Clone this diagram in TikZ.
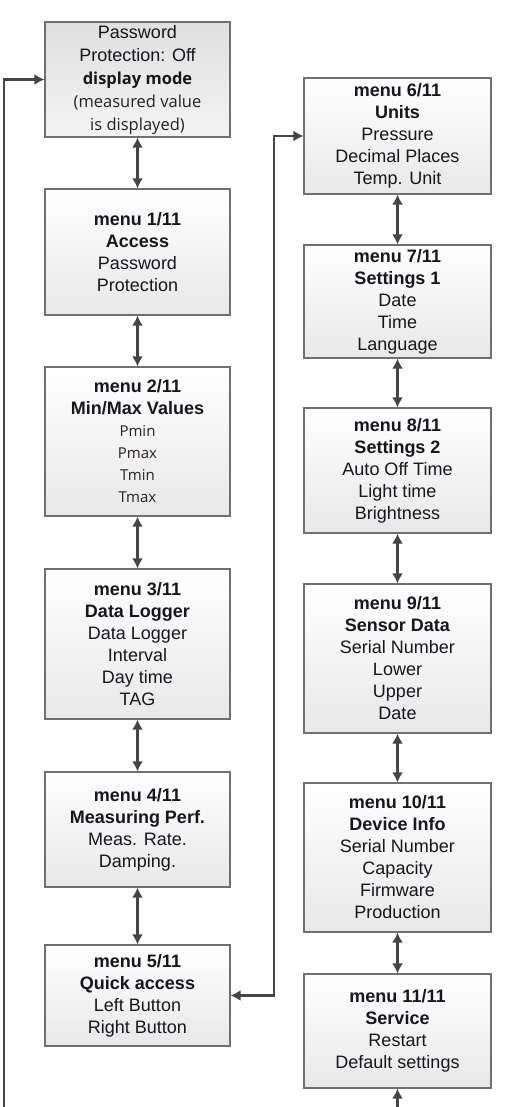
\documentclass[tikz,border=0pt]{standalone}
\usepackage{fontspec}
\setmainfont{Liberation Sans}
\newfontfamily\opens{Open Sans}
\usetikzlibrary{arrows.meta,calc}
\definecolor{boxline}{HTML}{707070}
\definecolor{boxbot}{HTML}{E8E8E8}
\definecolor{conncol}{HTML}{454545}
\definecolor{txt}{HTML}{16161E}
\definecolor{minmax}{HTML}{2A221E}
\definecolor{disptxt}{HTML}{222222}
\tikzset{
  menubox/.style={draw=boxline, line width=1.2pt, top color=white, bottom color=boxbot,
    align=center, inner sep=0pt, text=txt, font=\fontsize{18}{22}\selectfont},
  leftbox/.style={menubox, minimum width=185pt},
  rightbox/.style={menubox, minimum width=187pt},
  conn/.style={draw=conncol, line width=2.4pt, arrows={-Latex[length=10pt,width=11pt]}},
  bconn/.style={draw=conncol, line width=2.4pt, arrows={Latex[length=10pt,width=11pt]-Latex[length=10pt,width=11pt]}}
}
\newcommand{\mmitem}[1]{{\opens\fontsize{15}{22}\selectfont\color{minmax}#1}}
\newcommand{\dispitem}[1]{{\opens\fontsize{16.5}{23}\selectfont\color{disptxt}#1}}
\begin{document}
\begin{tikzpicture}[x=1pt,y=-1pt]
\useasboundingbox (0,0) rectangle (509,1107);
% left column
\node[leftbox, minimum height=115pt, top color=gray!25, bottom color=gray!9,
      font=\fontsize{18}{23}\selectfont] (d) at (137.5,79.5)
  {Password\\Protection: Off\\{\opens\bfseries\fontsize{16.5}{23}\selectfont display mode}\\
   \dispitem{(measured value}\\\dispitem{is displayed)}};
\node[leftbox, minimum height=126pt] (m1) at (137.5,252)
  {\textbf{menu 1/11}\\\textbf{Access}\\Password\\Protection};
\node[leftbox, minimum height=149pt] (m2) at (137.5,441.5)
  {\textbf{menu 2/11}\\\textbf{Min/Max Values}\\
   \mmitem{Pmin}\\\mmitem{Pmax}\\\mmitem{Tmin}\\\mmitem{Tmax}};
\node[leftbox, minimum height=150pt] (m3) at (137.5,644)
  {\textbf{menu 3/11}\\\textbf{Data Logger}\\Data Logger\\Interval\\Day time\\TAG};
\node[leftbox, minimum height=115pt] (m4) at (137.5,829.5)
  {\textbf{menu 4/11}\\\textbf{Measuring Perf.}\\Meas. Rate.\\Damping.};
\node[leftbox, minimum height=101pt] (m5) at (137.5,995.5)
  {\textbf{menu 5/11}\\\textbf{Quick access}\\Left Button\\Right Button};
% right column
\node[rightbox, minimum height=116pt] (m6) at (397.5,136)
  {\textbf{menu 6/11}\\\textbf{Units}\\Pressure\\Decimal Places\\Temp. Unit};
\node[rightbox, minimum height=113pt] (m7) at (397.5,301.5)
  {\textbf{menu 7/11}\\\textbf{Settings 1}\\Date\\Time\\Language};
\node[rightbox, minimum height=125pt] (m8) at (397.5,470.5)
  {\textbf{menu 8/11}\\\textbf{Settings 2}\\Auto Off Time\\Light time\\Brightness};
\node[rightbox, minimum height=149pt] (m9) at (397.5,658.5)
  {\textbf{menu 9/11}\\\textbf{Sensor Data}\\Serial Number\\Lower\\Upper\\Date};
\node[rightbox, minimum height=149pt] (m10) at (397.5,857.5)
  {\textbf{menu 10/11}\\\textbf{Device Info}\\Serial Number\\Capacity\\Firmware\\Production};
\node[rightbox, minimum height=114pt] (m11) at (397.5,1031)
  {\textbf{menu 11/11}\\\textbf{Service}\\Restart\\Default settings};
% vertical double arrows
\draw[bconn] (d.south) -- (m1.north);
\draw[bconn] (m1.south) -- (m2.north);
\draw[bconn] (m2.south) -- (m3.north);
\draw[bconn] (m3.south) -- (m4.north);
\draw[bconn] (m4.south) -- (m5.north);
\draw[bconn] (m6.south) -- (m7.north);
\draw[bconn] (m7.south) -- (m8.north);
\draw[bconn] (m8.south) -- (m9.north);
\draw[bconn] (m9.south) -- (m10.north);
\draw[bconn] (m10.south) -- (m11.north);
% loops
\coordinate (lb) at (4,1108);
\draw[conn] (lb) |- (d.west);
\coordinate (jx) at (274,0);
\draw[bconn] (m5.east) -- (m5.east -| jx) -- (m6.west -| jx) -- (m6.west);
\coordinate (rb) at (397.5,1108);
\draw[conn] (rb) -- (m11.south);
\end{tikzpicture}
\end{document}
